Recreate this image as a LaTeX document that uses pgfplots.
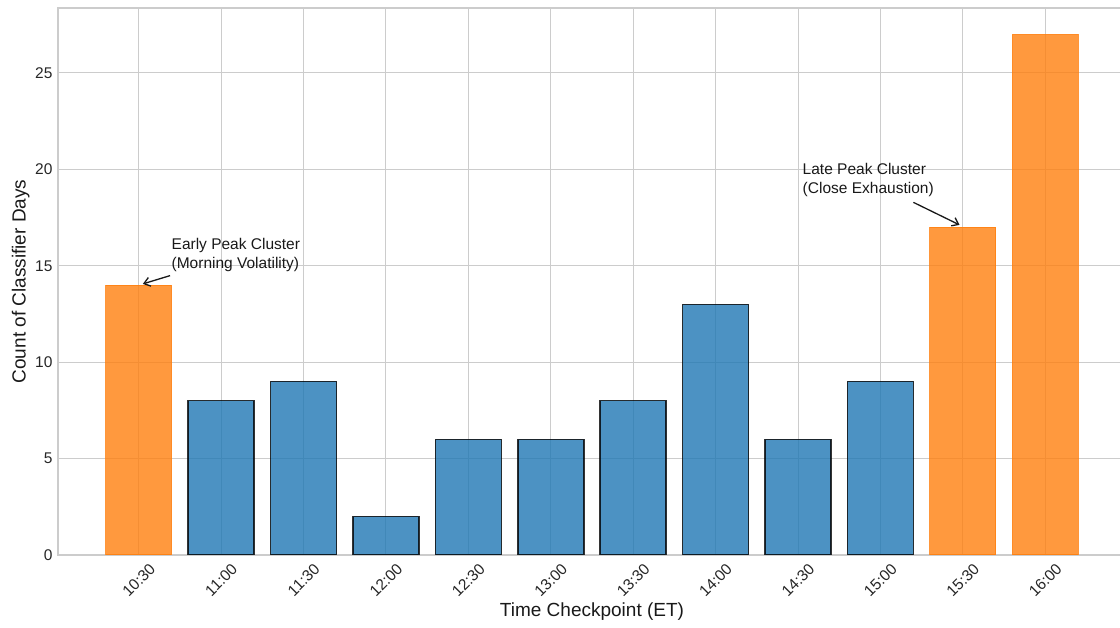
\documentclass[border=0pt]{standalone}
\usepackage{pgfplots}
\pgfplotsset{compat=1.18}
\usepackage{fontspec}
\setmainfont{Liberation Sans}
\usetikzlibrary{arrows.meta}
\definecolor{barblue}{HTML}{1F77B4}
\definecolor{barorange}{HTML}{FF7F0E}
\definecolor{gridgray}{HTML}{CCCCCC}
\begin{document}
\begin{tikzpicture}
\useasboundingbox (-58pt,-73pt) rectangle (1062pt,555pt);
\begin{axis}[
  scale only axis, width=1068pt, height=547pt,
  xmin=-0.98, xmax=11.98, ymin=0, ymax=28.37,
  xtick={0,1,2,3,4,5,6,7,8,9,10,11},
  xticklabels={10:30,11:00,11:30,12:00,12:30,13:00,13:30,14:00,14:30,15:00,15:30,16:00},
  ytick={0,5,10,15,20,25},
  grid=major, grid style={gridgray, line width=1pt},
  axis line style={gridgray, line width=1.2pt},
  major tick length=0pt,
  /pgf/number format/assume math mode=true,
  tick label style={font=\fontsize{15.5}{18}\selectfont, text=black!85},
  xticklabel style={yshift=-25pt, rotate=45, anchor=center},
  yticklabel style={xshift=-2pt},
  xlabel={Time Checkpoint (ET)}, ylabel={Count of Classifier Days},
  label style={font=\fontsize{19}{22}\selectfont, text=black!90},
  xlabel style={at={(axis description cs:0.5,-0.1042)}, anchor=center},
  ylabel style={at={(axis description cs:-0.035,0.5)}, anchor=center},
]
\addplot[ybar, bar width=0.8, bar shift=0pt, fill=barblue, draw=black, opacity=0.8, line width=1.5pt]
  coordinates {(1,8) (2,9) (3,2) (4,6) (5,6) (6,8) (7,13) (8,6) (9,9)};
\addplot[ybar, bar width=0.8, bar shift=0pt, fill=barorange, draw=barorange, opacity=0.8, line width=1pt]
  coordinates {(0,14) (10,17) (11,27)};
\node[anchor=south west, inner sep=0pt, align=left, font=\fontsize{15.5}{18.6}\selectfont, text=black!90]
  at (axis cs:0.397,14.68) {Early Peak Cluster\\(Morning Volatility)};
\draw[-{Straight Barb[length=6pt,width=9pt]}, line width=1.3pt, black!90]
  (axis cs:0.38,14.49) -- (axis cs:0.05,14.06);
\node[anchor=south west, inner sep=0pt, align=left, font=\fontsize{15.5}{18.6}\selectfont, text=black!90]
  at (axis cs:8.055,18.58) {Late Peak Cluster\\(Close Exhaustion)};
\draw[-{Straight Barb[length=6pt,width=9pt]}, line width=1.3pt, black!90]
  (axis cs:9.40,18.29) -- (axis cs:9.96,17.12);
\end{axis}
\end{tikzpicture}
\end{document}
